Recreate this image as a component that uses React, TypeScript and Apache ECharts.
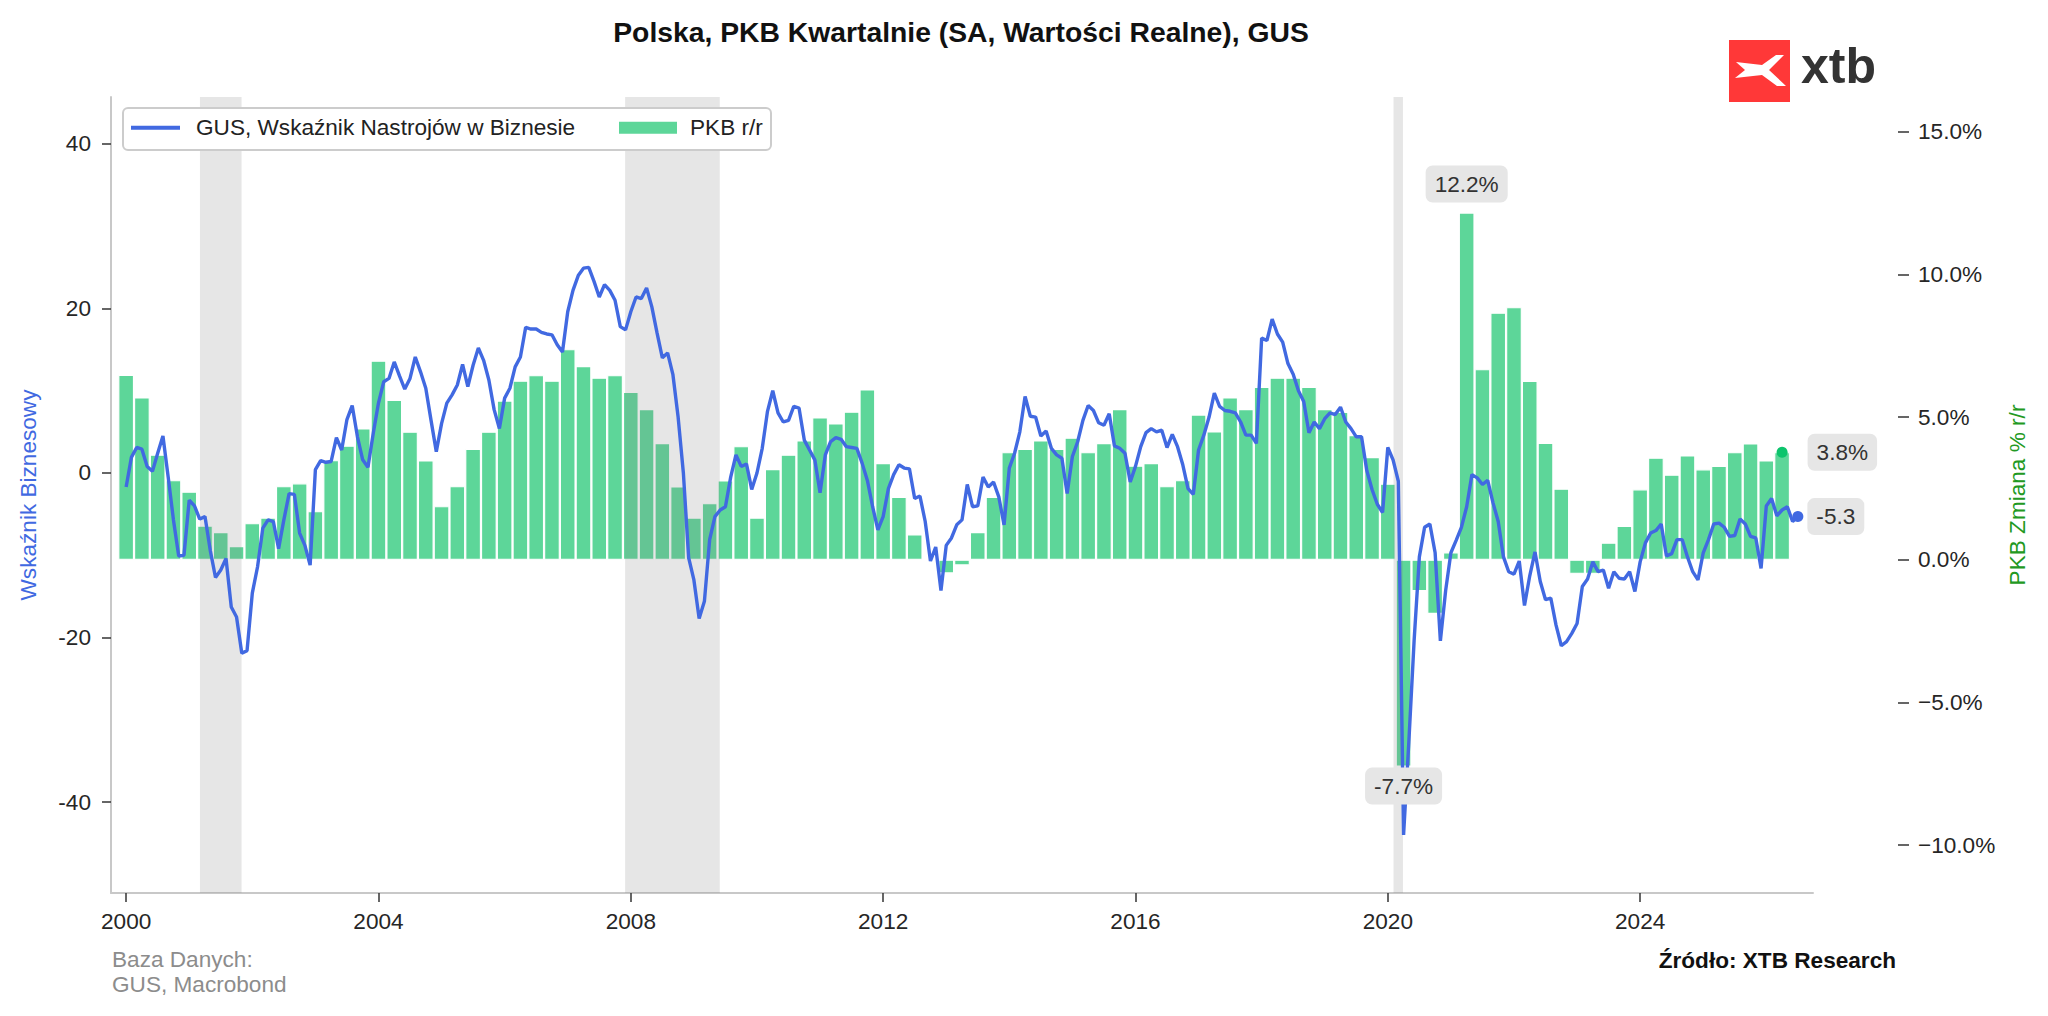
import React, { useEffect, useRef } from 'react';
import * as echarts from 'echarts';

// ---------- DATA ----------
const START_YEAR = 2000;

// GUS business sentiment indicator, monthly from Jan 2000
const businessSentiment = [
  -1.7, 1.9, 3.1, 2.9, 0.8, 0.2, 2.4, 4.5, -0.5, -5.7, -10.1, -10.0,
  -3.3, -4.0, -5.6, -5.3, -9.4, -12.7, -11.8, -10.4, -16.3, -17.5, -21.9, -21.6,
  -14.6, -11.4, -6.7, -5.7, -5.9, -9.2, -5.7, -2.5, -2.6, -7.3, -8.8, -11.2,
  0.4, 1.5, 1.3, 1.4, 4.3, 2.8, 6.5, 8.2, 4.4, 1.6, 0.7, 4.8,
  8.5, 11.1, 11.5, 13.5, 11.8, 10.2, 11.5, 14.1, 12.3, 10.3, 6.4, 2.6,
  6.0, 8.5, 9.5, 10.7, 13.2, 10.5, 13.1, 15.2, 13.7, 11.3, 7.7, 5.4,
  9.1, 10.3, 12.9, 14.1, 17.7, 17.5, 17.5, 17.1, 16.9, 16.8, 15.6, 14.7,
  19.6, 22.2, 24.0, 24.9, 25.0, 23.3, 21.4, 22.9, 22.2, 21.0, 17.8, 17.4,
  19.6, 21.4, 21.2, 22.5, 20.2, 17.0, 14.0, 14.6, 12.0, 6.8, 0.0, -10.3,
  -13.0, -17.7, -15.6, -8.1, -5.3, -4.5, -4.1, -0.5, 2.2, 0.8, 1.1, -2.0,
  0.0, 3.0, 7.5, 10.0, 7.3, 6.2, 6.4, 8.1, 7.9, 4.0, 2.8, 1.6,
  -2.4, 2.2, 3.8, 4.3, 4.1, 3.2, 3.1, 3.0, 1.2, -0.9, -4.1, -6.9,
  -5.3, -1.9, -0.2, 1.0, 0.6, 0.5, -3.1, -2.8, -5.9, -10.7, -9.0, -14.3,
  -8.8, -7.9, -6.3, -5.7, -1.4, -4.1, -4.0, -0.5, -1.7, -1.1, -2.9, -6.3,
  0.6, 2.4, 5.0, 9.3, 6.9, 6.8, 4.5, 5.1, 3.0, 2.2, 1.8, -2.5,
  2.0, 3.8, 6.4, 8.2, 7.6, 6.1, 5.8, 7.2, 3.3, 3.0, 2.4, -1.1,
  0.8, 3.2, 4.9, 5.4, 5.0, 5.2, 3.1, 4.7, 3.2, 1.0, -1.9, -2.6,
  2.8, 4.6, 6.8, 9.7, 8.1, 7.6, 7.5, 7.3, 6.2, 4.6, 4.6, 3.6,
  16.4, 16.1, 18.7, 16.9, 15.9, 13.3, 12.0, 10.0, 8.7, 4.9, 6.2, 5.4,
  6.6, 7.3, 7.1, 8.0, 6.2, 5.4, 4.4, 4.4, 0.3, -2.0, -3.8, -4.8,
  3.1, 1.6, -1.0, -44.0, -32.7, -20.4, -10.2, -6.6, -6.2, -9.7, -20.4, -14.3,
  -9.7, -8.2, -6.6, -4.1, -0.2, -0.6, -1.4, -0.9, -3.6, -5.9, -10.2, -12.0,
  -12.3, -10.7, -16.1, -12.5, -9.6, -13.2, -15.4, -15.2, -18.5, -21.0, -20.5, -19.5,
  -18.3, -13.8, -12.9, -10.8, -12.0, -11.8, -14.0, -12.0, -12.8, -12.9, -12.0, -14.4,
  -10.8, -8.5, -7.3, -7.0, -6.2, -10.1, -9.8, -8.1, -8.1, -10.2, -12.0, -13.0,
  -9.7, -8.1, -6.2, -6.1, -6.6, -7.7, -7.6, -5.6, -6.2, -7.7, -7.9, -11.6,
  -4.0, -3.1, -5.2, -4.5, -4.1, -5.9, -5.3,
];

// GDP y/y %, quarterly from 2000 Q1
const gdpYoY = [
  6.48, 5.69, 3.68, 2.79,
  2.39, 1.20, 0.97, 0.48,
  1.28, 1.48, 2.58, 2.68,
  1.70, 3.49, 4.00, 4.60,
  6.98, 5.60, 4.49, 3.48,
  1.88, 2.58, 3.89, 4.49,
  5.58, 6.28, 6.47, 6.28,
  7.38, 6.79, 6.38, 6.47,
  5.88, 5.28, 4.09, 2.57,
  1.48, 1.98, 2.78, 3.98,
  1.48, 3.18, 3.68, 4.18,
  4.99, 4.78, 5.19, 5.97,
  3.39, 2.20, 0.89, 0.0,
  -0.48, -0.20, 0.97, 2.20,
  3.77, 3.89, 4.18, 3.89,
  4.28, 3.77, 4.09, 5.28,
  3.30, 3.39, 2.58, 2.79,
  5.09, 4.50, 5.69, 5.28,
  6.06, 6.38, 6.38, 6.06,
  5.28, 5.18, 4.37, 3.60,
  2.67, -7.25, -1.10, -1.90,
  0.26, 12.17, 6.68, 8.66,
  8.85, 6.27, 4.10, 2.49,
  -0.49, -0.49, 0.60, 1.19,
  2.47, 3.58, 2.98, 3.66,
  3.17, 3.29, 3.77, 4.08,
  3.48, 3.77,
];

const recessions = [
  [2001.17, 2001.83],
  [2007.91, 2009.41],
  [2020.09, 2020.24],
];

const xTicks = [2000, 2004, 2008, 2012, 2016, 2020, 2024];
const leftTicks = [-40, -20, 0, 20, 40];
const rightTicks = [-10, -5, 0, 5, 10, 15];

const gdpCallouts = [
  { quarter: 85, text: '12.2%', side: 'top' },
  { quarter: 81, text: '-7.7%', side: 'bottom' },
];

const LINE_NAME = 'GUS, Wskaźnik Nastrojów w Biznesie';
const BAR_NAME = 'PKB r/r';
const TITLE = 'Polska, PKB Kwartalnie (SA, Wartości Realne), GUS';

// ---------- STYLE ----------
const FONT = '"Liberation Sans", Arial, Helvetica, sans-serif';
const FS = 22.6;
const BLUE = '#4169e1';
const GREEN = '#5dd699';
const DOT_GREEN = '#0cc46c';
const TICK_COLOR = '#262626';
const SPINE = '#c8c8c8';

const calloutStyle = {
  backgroundColor: '#e6e6e6',
  borderRadius: 7,
  padding: [7, 9],
  color: '#333333',
  fontSize: FS,
  fontFamily: FONT,
};

function buildOption() {
  const lineData = businessSentiment.map((v, i) => [START_YEAR + i / 12, v]);
  const barData = gdpYoY.map((v, i) => [START_YEAR + i / 4, v]);
  const lastLine = lineData[lineData.length - 1];
  const lastBar = barData[barData.length - 1];

  const fmtRight = (v: number) =>
    (v < 0 ? '\u2212' : '') + Math.abs(v).toFixed(1) + '%';

  return {
    animation: false,
    textStyle: { fontFamily: FONT },
    title: {
      text: TITLE,
      left: 961,
      textAlign: 'center',
      top: 18,
      padding: 0,
      textStyle: { fontSize: 28.3, fontWeight: 'bold', color: '#111111', fontFamily: FONT },
    },
    grid: { left: 111, right: 235, top: 97, bottom: 123, containLabel: false },
    legend: [
      {
        data: [{ name: LINE_NAME, icon: 'rect' }],
        left: 131,
        top: 116.2,
        itemWidth: 49,
        itemHeight: 4,
        padding: 0,
        z: 12,
        selectedMode: false,
        textStyle: { fontSize: FS, color: '#222222', fontFamily: FONT, padding: [0, 0, 0, 11] },
      },
      {
        data: [{ name: BAR_NAME, icon: 'rect' }],
        left: 617,
        top: 116.2,
        itemWidth: 60,
        itemHeight: 14,
        padding: 0,
        z: 12,
        selectedMode: false,
        textStyle: { fontSize: FS, color: '#222222', fontFamily: FONT, padding: [0, 0, 0, 7] },
      },
    ],
    xAxis: {
      type: 'value',
      min: 1999.76,
      max: 2026.74,
      axisLine: { show: true, onZero: false, lineStyle: { color: SPINE, width: 2 } },
      axisTick: { show: true, customValues: xTicks, length: 9, lineStyle: { color: '#333', width: 1.5 } },
      axisLabel: {
        customValues: xTicks,
        fontSize: FS,
        color: TICK_COLOR,
        margin: 17,
        formatter: (v: number) => String(v),
      },
      splitLine: { show: false },
    },
    yAxis: [
      {
        type: 'value',
        position: 'left',
        min: -51.06,
        max: 45.71,
        name: 'Wskaźnik Biznesowy',
        nameLocation: 'middle',
        nameRotate: 90,
        nameGap: 71,
        nameTextStyle: { color: BLUE, fontSize: FS, fontFamily: FONT },
        axisLine: { show: true, onZero: false, lineStyle: { color: SPINE, width: 2 } },
        axisTick: { show: true, customValues: leftTicks, length: 9, lineStyle: { color: '#333', width: 1.5 } },
        axisLabel: {
          customValues: leftTicks,
          fontSize: FS,
          color: TICK_COLOR,
          margin: 20,
          formatter: (v: number) => String(v),
        },
        splitLine: { show: false },
      },
      {
        type: 'value',
        position: 'right',
        offset: 85,
        min: -11.68,
        max: 16.22,
        name: 'PKB Zmiana % r/r',
        nameLocation: 'middle',
        nameRotate: 90,
        nameGap: 106,
        nameTextStyle: { color: '#229922', fontSize: FS, fontFamily: FONT },
        axisLine: { show: false, onZero: false },
        axisTick: { show: true, customValues: rightTicks, length: 11, lineStyle: { color: '#333', width: 1.5 } },
        axisLabel: {
          customValues: rightTicks,
          fontSize: FS,
          color: TICK_COLOR,
          margin: 20,
          formatter: fmtRight,
        },
        splitLine: { show: false },
      },
    ],
    series: [
      {
        name: BAR_NAME,
        type: 'bar',
        xAxisIndex: 0,
        yAxisIndex: 1,
        data: barData,
        barWidth: 15.7,
        z: 2,
        itemStyle: { color: GREEN, borderColor: '#ffffff', borderWidth: 1.1 },
        markPoint: {
          z: 7,
          symbol: 'circle',
          silent: true,
          data: [
            ...gdpCallouts.map((c) => ({
              coord: barData[c.quarter],
              symbolSize: 0,
              label: {
                show: true,
                position: c.side,
                distance: c.side === 'top' ? 10 : 1,
                formatter: c.text,
                ...calloutStyle,
              },
            })),
            {
              coord: lastBar,
              symbolSize: 11,
              itemStyle: { color: DOT_GREEN },
              label: {
                show: true,
                position: 'right',
                distance: 20,
                formatter: lastBar[1].toFixed(1) + '%',
                ...calloutStyle,
              },
            },
          ],
        },
      },
      {
        name: 'recessions',
        type: 'line',
        xAxisIndex: 0,
        yAxisIndex: 0,
        data: [],
        z: 3,
        silent: true,
        markArea: {
          z: 3,
          silent: true,
          itemStyle: { color: 'rgba(128,128,128,0.2)' },
          data: recessions.map(([a, b]) => [{ xAxis: a }, { xAxis: b }]),
        },
      },
      {
        name: LINE_NAME,
        type: 'line',
        xAxisIndex: 0,
        yAxisIndex: 0,
        data: lineData,
        color: BLUE,
        showSymbol: false,
        symbol: 'none',
        z: 5,
        lineStyle: { color: BLUE, width: 3.4 },
        itemStyle: { color: BLUE },
        markPoint: {
          z: 7,
          silent: true,
          symbol: 'circle',
          data: [
            {
              coord: lastLine,
              symbolSize: 11,
              itemStyle: { color: BLUE },
              label: {
                show: true,
                position: 'right',
                distance: 4,
                formatter: lastLine[1].toFixed(1),
                ...calloutStyle,
              },
            },
          ],
        },
      },
    ],
    graphic: [
      {
        type: 'rect',
        z: 10,
        silent: true,
        shape: { x: 123, y: 108, width: 648, height: 42, r: 5 },
        style: { fill: '#ffffff', stroke: '#cccccc', lineWidth: 2 },
      },
      {
        type: 'group',
        x: 1729,
        y: 40,
        children: [
          {
            type: 'rect',
            shape: { x: 0, y: 0, width: 61, height: 62 },
            style: { fill: '#ff3838' },
          },
          {
            type: 'polygon',
            shape: {
              points: [
                [47, 15], [55, 15], [40, 30], [57, 46], [48, 46],
                [33, 35], [6, 38], [16, 30], [7, 22], [33, 25],
              ],
            },
            style: { fill: '#ffffff' },
          },
        ],
      },
      {
        type: 'text',
        x: 1801,
        y: 66,
        style: {
          text: 'xtb',
          fontSize: 50,
          fontWeight: 'bold',
          fontFamily: FONT,
          fill: '#333333',
          verticalAlign: 'middle',
          align: 'left',
        },
      },
      {
        type: 'text',
        x: 112,
        y: 946.5,
        style: {
          text: 'Baza Danych:\nGUS, Macrobond',
          fontSize: FS,
          lineHeight: 25,
          fontFamily: FONT,
          fill: '#8c8c8c',
          verticalAlign: 'top',
          align: 'left',
        },
      },
      {
        type: 'text',
        x: 1896,
        y: 948,
        style: {
          text: 'Źródło: XTB Research',
          fontSize: FS,
          lineHeight: 25,
          fontWeight: 'bold',
          fontFamily: FONT,
          fill: '#111111',
          verticalAlign: 'top',
          align: 'right',
        },
      },
    ],
  };
}

export default function App() {
  const ref = useRef<HTMLDivElement>(null);
  useEffect(() => {
    document.body.style.margin = '0';
    if (!ref.current) return;
    const chart = echarts.init(ref.current, undefined, { renderer: 'svg' });
    chart.setOption(buildOption() as any);
    return () => chart.dispose();
  }, []);
  return <div ref={ref} style={{ width: 2048, height: 1016, background: '#ffffff' }} />;
}
